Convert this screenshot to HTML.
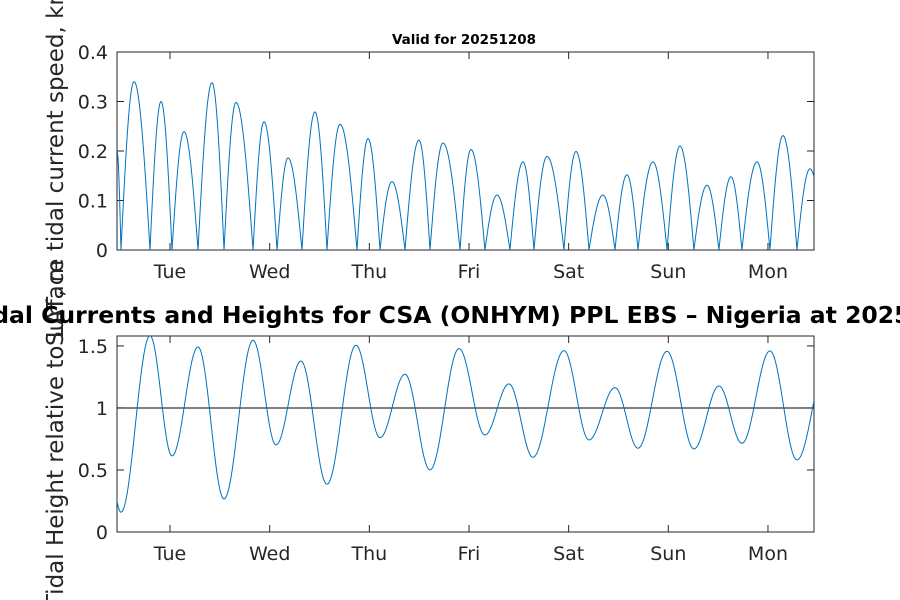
<!DOCTYPE html>
<html><head><meta charset="utf-8"><style>
html,body{margin:0;padding:0;background:#fff;width:900px;height:600px;overflow:hidden}
svg{display:block;font-family:"DejaVu Sans","Liberation Sans",sans-serif}
</style></head><body>
<svg id="c" width="900" height="600" viewBox="0 0 900 600"></svg>
<script>
// ---- data (time in days, Tue = 1) ----
const dayLabels = ["Tue","Wed","Thu","Fri","Sat","Sun","Mon"];
const dayTicks = [1,2,3,4,5,6,7];
const xDomain = [0.468, 7.462];
const speedTicks = [0,0.1,0.2,0.3,0.4];
const speedTickLabels = ["0","0.1","0.2","0.3","0.4"];
const heightTicks = [0,0.5,1,1.5];
const heightTickLabels = ["0","0.5","1","1.5"];
// current speed: zero crossings and peaks (alternating)
const speedStart = [0.468, 0.2];
const speedZeroTimes = [0.508,0.799,1.020,1.281,1.542,1.833,2.074,2.324,2.575,2.876,3.107,3.358,3.609,3.910,4.160,4.411,4.652,4.953,5.204,5.465,5.696,5.987,6.257,6.508,6.739,7.020,7.291,7.56];
const speedPeakTimes = [0.639,0.910,1.140,1.421,1.662,1.943,2.184,2.455,2.706,2.987,3.227,3.498,3.739,4.020,4.281,4.542,4.783,5.074,5.344,5.585,5.846,6.117,6.388,6.629,6.890,7.151,7.422];
const speedPeakValues = [0.34,0.30,0.239,0.338,0.298,0.259,0.186,0.279,0.254,0.225,0.138,0.222,0.216,0.203,0.111,0.178,0.189,0.199,0.111,0.152,0.178,0.210,0.131,0.148,0.178,0.231,0.164];
// tidal height extrema
const heightTimes = [0.28,0.508,0.799,1.020,1.281,1.542,1.833,2.064,2.314,2.575,2.866,3.107,3.358,3.609,3.900,4.160,4.401,4.642,4.953,5.204,5.465,5.696,5.987,6.257,6.508,6.739,7.020,7.291,7.60];
const heightValues = [1.4,0.159,1.583,0.613,1.492,0.266,1.546,0.702,1.379,0.385,1.506,0.760,1.272,0.5,1.479,0.782,1.194,0.602,1.462,0.742,1.164,0.675,1.457,0.669,1.177,0.715,1.46,0.581,1.4];
const refLevel = 1;

const NS="http://www.w3.org/2000/svg";
const svg=document.getElementById('c');
function mk(tag,attrs,parent){const e=document.createElementNS(NS,tag);for(const k in attrs)e.setAttribute(k,attrs[k]);(parent||svg).appendChild(e);return e;}

const L=117,R=814;
const top1={t:52,b:250,min:0,max:0.4};
const top2={t:336,b:532,min:0,max:1.58};
const xS=t=>L+(t-xDomain[0])/(xDomain[1]-xDomain[0])*(R-L);
const yS=(ax,v)=>ax.b-(v-ax.min)/(ax.max-ax.min)*(ax.b-ax.t);

const defs=mk('defs',{});
[['cl1',top1],['cl2',top2]].forEach(([id,ax])=>{const cp=mk('clipPath',{id},defs);mk('rect',{x:L,y:ax.t,width:R-L,height:ax.b-ax.t},cp);});

function axes(ax,ticks,labels,name){
  const g=mk('g',{});
  
  
  mk('rect',{x:L,y:ax.t,width:R-L,height:ax.b-ax.t,fill:'#fff',stroke:'#262626','stroke-width':1},g);
  dayTicks.forEach((d,i)=>{const x=xS(d);
    mk('line',{x1:x,x2:x,y1:ax.b,y2:ax.b-7,stroke:'#262626'},g);
    mk('line',{x1:x,x2:x,y1:ax.t,y2:ax.t+7,stroke:'#262626'},g);
    const t=mk('text',{x:x,y:ax.b+28,'text-anchor':'middle','font-size':19,fill:'#262626'},g);t.textContent=dayLabels[i];
    
    
  });
  ticks.forEach((v,i)=>{const y=yS(ax,v);
    mk('line',{x1:L,x2:L+7,y1:y,y2:y,stroke:'#262626'},g);
    mk('line',{x1:R,x2:R-7,y1:y,y2:y,stroke:'#262626'},g);
    const t=mk('text',{x:L-9,y:y+7,'text-anchor':'end','font-size':19,fill:'#262626'},g);t.textContent=labels[i];
    
    
  });
  return g;
}
axes(top1,speedTicks,speedTickLabels,'speed-axes');
axes(top2,heightTicks,heightTickLabels,'height-axes');

// speed line
let pts=[];
function seg(t0,v0,t1,v1,rising){const n=24;for(let k=0;k<=n;k++){const f=k/n;const t=t0+(t1-t0)*f;let v;
  if(rising) v=v0+(v1-v0)*Math.sin(Math.PI/2*f); else v=v1+(v0-v1)*Math.cos(Math.PI/2*f);
  pts.push([xS(t),yS(top1,v)]);}}
seg(speedStart[0],speedStart[1],speedZeroTimes[0],0,false);
for(let i=0;i<speedPeakTimes.length;i++){
  seg(speedZeroTimes[i],0,speedPeakTimes[i],speedPeakValues[i],true);
  seg(speedPeakTimes[i],speedPeakValues[i],speedZeroTimes[i+1],0,false);
}
const p1=mk('path',{d:'M'+pts.map(p=>p[0].toFixed(2)+','+p[1].toFixed(2)).join('L'),fill:'none',stroke:'#0072bd','stroke-width':1,'clip-path':'url(#cl1)'});



// height line
pts=[];
for(let i=0;i<heightTimes.length-1;i++){const t0=heightTimes[i],t1=heightTimes[i+1],v0=heightValues[i],v1=heightValues[i+1];
  for(let k=0;k<=24;k++){const f=k/24;const v=v0+(v1-v0)*(1-Math.cos(Math.PI*f))/2;pts.push([xS(t0+(t1-t0)*f),yS(top2,v)]);}}
const ref=mk('line',{x1:L,x2:R,y1:yS(top2,refLevel),y2:yS(top2,refLevel),stroke:'#000','stroke-width':1});


const p2=mk('path',{d:'M'+pts.map(p=>p[0].toFixed(2)+','+p[1].toFixed(2)).join('L'),fill:'none',stroke:'#0072bd','stroke-width':1,'clip-path':'url(#cl2)'});


</script>
<svg width="900" height="600" style="position:absolute;left:0;top:0" font-family="DejaVu Sans, Liberation Sans, sans-serif">
<text x="464" y="44" text-anchor="middle" font-size="13.5" font-weight="bold" fill="#000">Valid for 20251208</text>
<text transform="translate(63,151) rotate(-90)" text-anchor="middle" font-size="23" fill="#262626">Surface tidal current speed, knots</text>
<text transform="translate(63,434) rotate(-90)" text-anchor="middle" font-size="23" fill="#262626">Tidal Height relative to LAT, m</text>
<text x="472" y="323" text-anchor="middle" font-size="23.5" font-weight="bold" fill="#000">Tidal Currents and Heights for CSA (ONHYM) PPL EBS  – Nigeria at 20251208</text>
</svg>
</body></html>
